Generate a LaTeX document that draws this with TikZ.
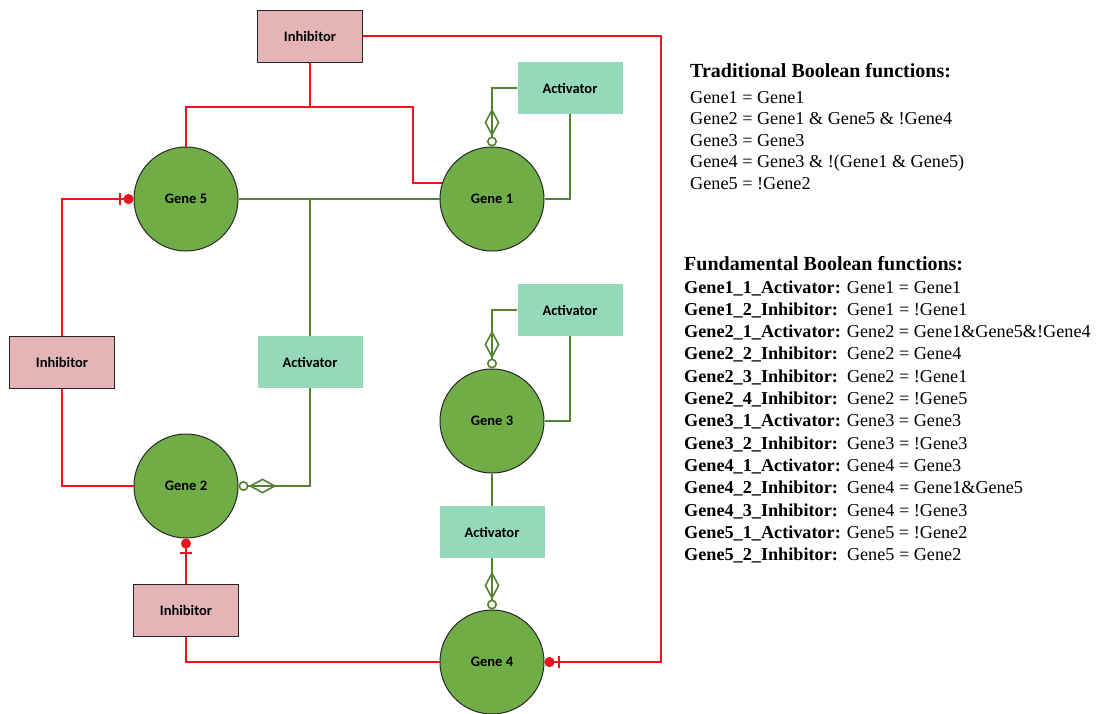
\documentclass[tikz,border=0pt]{standalone}
\usepackage{fontspec}
\setmainfont{Liberation Serif}
\setsansfont{Carlito}
\usetikzlibrary{arrows.meta}

\definecolor{genefill}{RGB}{112,173,71}
\definecolor{actline}{RGB}{84,130,53}
\definecolor{inhline}{RGB}{232,22,28}
\definecolor{actfill}{RGB}{148,217,186}
\definecolor{inhfill}{RGB}{228,180,183}

\begin{document}
\begin{tikzpicture}[x=1pt,y=-1pt,
  gene/.style={circle, draw=black!85, line width=1pt, fill=genefill, minimum size=104pt, inner sep=0pt,
    font=\sffamily\bfseries\fontsize{14.5}{16}\selectfont},
  actbox/.style={rectangle, fill=actfill, minimum width=105pt, minimum height=52pt, inner sep=0pt,
    font=\sffamily\bfseries\fontsize{14.5}{16}\selectfont},
  inhbox/.style={rectangle, draw=black!85, line width=1pt, fill=inhfill, minimum width=105pt, minimum height=52pt, inner sep=0pt,
    font=\sffamily\bfseries\fontsize{14.5}{16}\selectfont},
  actwire/.style={draw=actline, line width=2.2pt},
  inhwire/.style={draw=inhline, line width=2.4pt},
  acttip/.style={actwire, -{Diamond[open, length=28pt, width=15pt, line width=1.6pt] Circle[open, length=10pt, width=10pt, line width=1.6pt]}},
  inhtip/.style={inhwire, -{Bar[width=12pt, line width=2pt, sep=3pt] Circle[length=10pt, width=10pt]}},
  title/.style={anchor=base west, inner sep=0pt, font=\bfseries\fontsize{20}{24}\selectfont},
  fline/.style={anchor=base west, inner sep=0pt, font=\fontsize{18.2}{22}\selectfont}
]
\useasboundingbox (0,0) rectangle (1098,713);

% genes
\node[gene] (g5) at (186,199) {Gene 5};
\node[gene] (g1) at (492,199) {Gene 1};
\node[gene] (g2) at (186,486) {Gene 2};
\node[gene] (g3) at (492,421) {Gene 3};
\node[gene] (g4) at (492,662) {Gene 4};

% regulators
\node[inhbox] (inh1) at (310,36) {Inhibitor};
\node[inhbox] (inh2) at (62,362) {Inhibitor};
\node[inhbox] (inh3) at (186,610) {Inhibitor};
\node[actbox] (act1) at (570,88) {Activator};
\node[actbox] (act2) at (310,362) {Activator};
\node[actbox] (act3) at (570,310) {Activator};
\node[actbox] (act4) at (492,532) {Activator};

% junctions and corners
\coordinate (rj) at (310,107);
\coordinate (rk) at (413,107);
\coordinate (rc) at (661,662);
\coordinate (gj) at (310,199);

% inhibitor wiring
\draw[inhwire] (inh1.south) -- (rj);
\draw[inhwire] (g5.north) |- (rk) |- (g1.162);
\draw[inhtip] (inh1.east) -| (rc) -- (g4.east);
\draw[inhtip] (inh2.north) |- (g5.west);
\draw[inhwire] (inh2.south) |- (g2.west);
\draw[inhtip] (inh3.north) -- (g2.south);
\draw[inhwire] (inh3.south) |- (g4.west);

% activator wiring
\draw[actwire] (g5.east) -- (g1.west);
\draw[actwire] (gj) -- (act2.north);
\draw[acttip] (act2.south) |- (g2.east);
\draw[acttip] (act1.west) -| (g1.north);
\draw[actwire] (act1.south) |- (g1.east);
\draw[acttip] (act3.west) -| (g3.north);
\draw[actwire] (act3.south) |- (g3.east);
\draw[actwire] (g3.south) -- (act4.north);
\draw[acttip] (act4.south) -- (g4.north);

% function lists
\node[title] (tt) at (690,77) {Traditional Boolean functions:};
\node[fline] (t1) at (690,103) {Gene1 = Gene1};
\node[fline] (t2) at (690,124.5) {Gene2 = Gene1 \& Gene5 \& !Gene4};
\node[fline] (t3) at (690,146) {Gene3 = Gene3};
\node[fline] (t4) at (690,167.5) {Gene4 = Gene3 \& !(Gene1 \& Gene5)};
\node[fline] (t5) at (690,189) {Gene5 = !Gene2};

\node[title] (ft) at (684,270) {Fundamental Boolean functions:};
\node[fline] (f1) at (684,293.0) {\textbf{Gene1\_1\_Activator:} Gene1 = Gene1};
\node[fline] (f2) at (684,315.3) {\textbf{Gene1\_2\_Inhibitor:}\ \ Gene1 = !Gene1};
\node[fline] (f3) at (684,337.6) {\textbf{Gene2\_1\_Activator:} Gene2 = Gene1\&Gene5\&!Gene4};
\node[fline] (f4) at (684,359.9) {\textbf{Gene2\_2\_Inhibitor:}\ \ Gene2 = Gene4};
\node[fline] (f5) at (684,382.2) {\textbf{Gene2\_3\_Inhibitor:}\ \ Gene2 = !Gene1};
\node[fline] (f6) at (684,404.5) {\textbf{Gene2\_4\_Inhibitor:}\ \ Gene2 = !Gene5};
\node[fline] (f7) at (684,426.8) {\textbf{Gene3\_1\_Activator:} Gene3 = Gene3};
\node[fline] (f8) at (684,449.1) {\textbf{Gene3\_2\_Inhibitor:}\ \ Gene3 = !Gene3};
\node[fline] (f9) at (684,471.4) {\textbf{Gene4\_1\_Activator:} Gene4 = Gene3};
\node[fline] (f10) at (684,493.7) {\textbf{Gene4\_2\_Inhibitor:}\ \ Gene4 = Gene1\&Gene5};
\node[fline] (f11) at (684,516.0) {\textbf{Gene4\_3\_Inhibitor:}\ \ Gene4 = !Gene3};
\node[fline] (f12) at (684,538.3) {\textbf{Gene5\_1\_Activator:} Gene5 = !Gene2};
\node[fline] (f13) at (684,560.6) {\textbf{Gene5\_2\_Inhibitor:}\ \ Gene5 = Gene2};
\end{tikzpicture}
\end{document}
